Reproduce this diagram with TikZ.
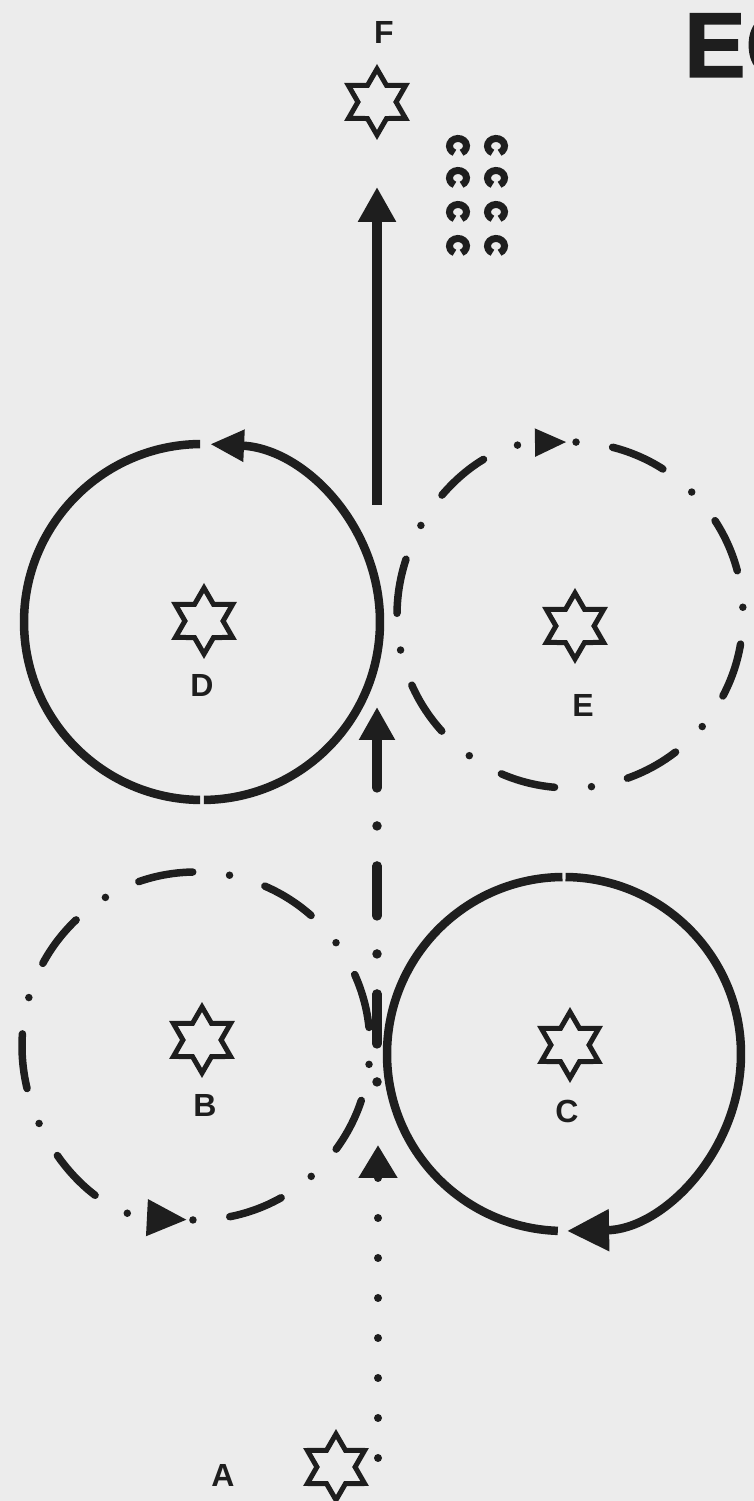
\documentclass[tikz,border=0pt]{standalone}
\usepackage{fontspec}
\setmainfont{Liberation Sans}
\newfontfamily\heavyfont{Liberation Sans}[BoldFeatures={FakeBold=1.6}]
\usepackage{tikz}
\usetikzlibrary{arrows.meta, positioning, shapes.geometric}
\definecolor{ink}{HTML}{1E1E1E}
\definecolor{paper}{HTML}{ECECEC}

\begin{document}
\begin{tikzpicture}[
    x=1pt, y=1pt,
    every node/.style={font=\bfseries},
    tag/.style={inner sep=0pt, text=ink, font=\fontsize{32}{32}\selectfont\bfseries},
    hexstar/.style={
        star,
        star points=6,
        star point ratio=1.73,
        draw=ink,
        line width=5pt,
        inner sep=0pt,
        minimum size=66pt
    },
    solidring/.style={draw=ink, line width=8.5pt},
    dashring/.style={draw=ink, line width=7.5pt, line cap=round,
        dash pattern=on 0pt off 37pt on 55pt off 37pt},
    dotline/.style={draw=ink, line width=8pt, line cap=round, dash pattern=on 0pt off 40pt},
    dashline/.style={draw=ink, line width=9.5pt, line cap=round, dash pattern=on 50pt off 38pt on 0pt off 40pt},
    solidline/.style={draw=ink, line width=10pt},
    shoe/.style={draw=ink, line width=7pt}
]

\useasboundingbox (0,0) rectangle (754,1501);
\clip (0,0) rectangle (754,1501);
\fill[paper] (0,0) rectangle (754,1501);

% STARS
\node[hexstar] (starF) at (377, 1399) {};
\node[hexstar] (starD) at (204, 880) {};
\node[hexstar] (starE) at (575, 875) {};
\node[hexstar] (starB) at (202, 461) {};
\node[hexstar] (starC) at (570, 456) {};
\node[hexstar] (starA) at (336, 34) {};

% LABELS
\node[tag] (labF) at (384, 1468) {F};
\node[tag] (labD) at (202, 815) {D};
\node[tag] (labE) at (583, 795) {E};
\node[tag] (labB) at (205, 396) {B};
\node[tag] (labC) at (567, 390) {C};
\node[tag] (labA) at (223, 26) {A};

\node[anchor=base west, inner sep=0pt, text=ink, font=\fontsize{92}{92}\selectfont\heavyfont\bfseries] (title) at (684, 1424) {EQ};

% CIRCLES
\coordinate (ctrD) at (202, 879);
\coordinate (ctrE) at (570, 886);
\coordinate (ctrB) at (196, 455);
\coordinate (ctrC) at (564, 447);

\draw[solidring] ([shift={(90.6:178)}]ctrD) arc[start angle=90.6, end angle=269.4, radius=178];
\draw[solidring, -{Triangle[length=34pt, width=30pt]}] ([shift={(270.6:178)}]ctrD) arc[start angle=270.6, end angle=447.4, radius=178];
\draw[solidring] ([shift={(268:177)}]ctrC) arc[start angle=268, end angle=90.5, radius=177];
\draw[solidring, -{Triangle[length=42pt, width=40pt]}] ([shift={(89.5:177)}]ctrC) arc[start angle=89.5, end angle=-89, radius=177];
\draw[dashring, -{Triangle[length=32pt, width=26pt]}] ([shift={(88:173)}]ctrE) arc[start angle=88, end angle=-269, radius=173];
\draw[dashring, -{Triangle[length=40pt, width=35pt]}] ([shift={(-91:174)}]ctrB) arc[start angle=-91, end angle=267, radius=174];

% TRACK A TO F
\coordinate (dotStart) at (378, 43);
\coordinate (dotEnd) at (378, 356);
\coordinate (dashLow) at (377, 401);
\coordinate (dashTop) at (377, 794);
\coordinate (solidLow) at (377, 996);
\coordinate (solidTop) at (377, 1314);

\draw[dotline, -{Triangle[length=33pt, width=37pt]}] (dotStart) -- (dotEnd);
\draw[dashline, {Triangle[length=33pt, width=34pt]}-] (dashTop) -- (dashLow);
\draw[solidline, -{Triangle[length=35pt, width=36pt]}] (solidLow) -- (solidTop);

% HORSESHOES
\foreach \sx in {458, 496}
  \foreach \sy in {1355, 1323, 1289, 1255}
    \draw[shoe] ([shift={(-65:8.5 and 7.5)}]\sx,\sy) arc[start angle=-65, end angle=245, x radius=8.5, y radius=7.5];

\end{tikzpicture}
\end{document}
